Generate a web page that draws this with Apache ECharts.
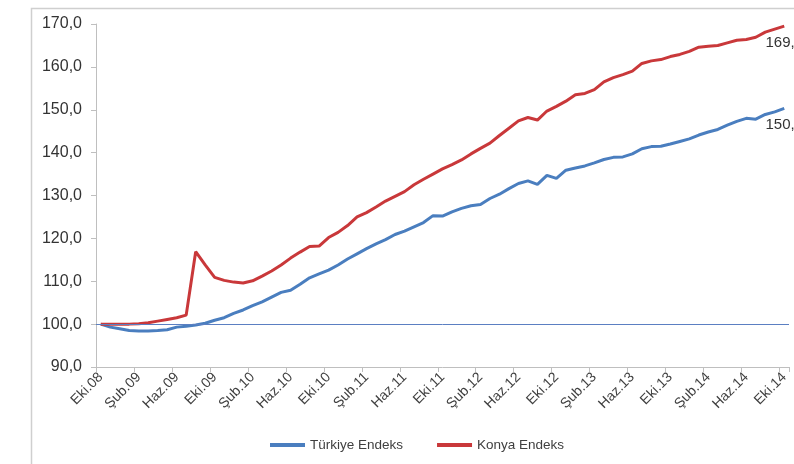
<!DOCTYPE html>
<html>
<head>
<meta charset="utf-8">
<script src="https://cdn.jsdelivr.net/npm/echarts@6/dist/echarts.min.js"></script>
<style>
  html, body { margin: 0; padding: 0; background: #ffffff; }
  #chart { width: 794px; height: 464px; }
</style>
</head>
<body>
<div id="chart"></div>
<script>
// Monthly index values, Eki.08 = 100 (October 2008 – October 2014)
const months = ['Oca', 'Şub', 'Mar', 'Nis', 'May', 'Haz', 'Tem', 'Ağu', 'Eyl', 'Eki', 'Kas', 'Ara'];
const categories = [];
for (let k = 0; k < 73; k++) {
  const m = (9 + k) % 12;
  const y = 8 + Math.floor((9 + k) / 12);
  categories.push(months[m] + '.' + String(y).padStart(2, '0'));
}

const seriesNames = ['Türkiye Endeks', 'Konya Endeks'];

const turkiyeEndeks = [
  100.0, 99.3, 98.9, 98.5, 98.4, 98.4, 98.5, 98.7, 99.3, 99.5,
  99.8, 100.2, 100.9, 101.5, 102.5, 103.3, 104.3, 105.2, 106.3, 107.4,
  107.9, 109.3, 110.8, 111.7, 112.6, 113.8, 115.2, 116.4, 117.6, 118.7,
  119.7, 120.9, 121.7, 122.7, 123.7, 125.3, 125.2, 126.2, 127.0, 127.6,
  127.9, 129.3, 130.3, 131.6, 132.8, 133.4, 132.6, 134.7, 134.0, 135.9,
  136.4, 136.9, 137.6, 138.4, 138.9, 139.0, 139.7, 140.9, 141.4, 141.5,
  142.0, 142.6, 143.2, 144.1, 144.8, 145.4, 146.4, 147.3, 148.0, 147.8,
  148.9, 149.5, 150.3
];

const konyaEndeks = [
  100.0, 100.0, 100.0, 100.0, 100.1, 100.3, 100.7, 101.1, 101.5, 102.1,
  116.9, 113.8, 110.9, 110.2, 109.8, 109.6, 110.1, 111.2, 112.4, 113.8,
  115.4, 116.8, 118.1, 118.2, 120.2, 121.4, 123.0, 125.0, 126.0, 127.3,
  128.7, 129.8, 130.9, 132.5, 133.8, 135.0, 136.2, 137.2, 138.3, 139.7,
  141.0, 142.2, 144.0, 145.7, 147.4, 148.2, 147.6, 149.7, 150.8, 152.0,
  153.5, 153.8, 154.7, 156.5, 157.5, 158.2, 159.0, 160.8, 161.4, 161.7,
  162.4, 162.9, 163.6, 164.6, 164.8, 165.0, 165.6, 166.2, 166.4, 166.9,
  168.1, 168.8, 169.5
];

const baseLevel = 100;
const yTicks = { min: 90, max: 170, step: 10 };

const FONT = '"Liberation Sans Narrow", "Liberation Sans", Arial, sans-serif';
const fmt = v => v.toFixed(1).replace('.', ',');

// Label only the final point of each series
function endLabel(values) {
  return values.map((v, i) => i === values.length - 1
    ? { value: v, label: { show: true } }
    : v);
}

const chart = echarts.init(document.getElementById('chart'), null, { renderer: 'canvas' });

chart.setOption({
  animation: false,
  backgroundColor: '#ffffff',
  textStyle: { fontFamily: FONT },
  graphic: [{
    type: 'rect',
    shape: { x: 31.5, y: 8.5, width: 800, height: 500 },
    style: { fill: 'none', stroke: '#cfcfcf', lineWidth: 1.5 },
    silent: true, z: -1
  }],
  grid: { left: 96, right: 5, top: 24, bottom: 97, containLabel: false },
  legend: {
    left: 265, top: 433,
    itemWidth: 35, itemHeight: 4, itemGap: 34,
    textStyle: { fontFamily: FONT, fontSize: 13.5, color: '#404040' },
    data: [
      { name: seriesNames[0], icon: 'rect' },
      { name: seriesNames[1], icon: 'rect' }
    ]
  },
  xAxis: {
    type: 'category',
    data: categories,
    boundaryGap: true,
    axisLine: { lineStyle: { color: '#bfbfbf', width: 1 } },
    axisTick: { show: true, interval: 3, length: 5, lineStyle: { color: '#bfbfbf' } },
    axisLabel: {
      interval: 3, rotate: 45, margin: 8,
      fontFamily: FONT, fontSize: 14, color: '#404040'
    },
    splitLine: { show: false }
  },
  yAxis: {
    type: 'value',
    min: yTicks.min, max: yTicks.max, interval: yTicks.step,
    axisLine: { show: true, lineStyle: { color: '#bfbfbf', width: 1 } },
    axisTick: { show: true, length: 5, lineStyle: { color: '#bfbfbf' } },
    axisLabel: {
      formatter: v => fmt(v), margin: 14,
      fontFamily: FONT, fontSize: 16, color: '#333333'
    },
    splitLine: { show: false }
  },
  series: [
    {
      name: seriesNames[0],
      type: 'line',
      data: endLabel(turkiyeEndeks),
      symbol: 'circle', symbolSize: 0.01, showSymbol: true,
      lineStyle: { color: '#4a7ebf', width: 3 },
      itemStyle: { color: '#4a7ebf' },
      label: {
        show: false,
        position: 'bottom', distance: 9,
        formatter: p => fmt(p.value),
        fontFamily: FONT, fontSize: 15, color: '#333333'
      },
      markLine: {
        silent: true, symbol: 'none',
        label: { show: false },
        lineStyle: { color: '#5b7fc2', width: 1, type: 'solid' },
        data: [{ yAxis: baseLevel }]
      },
      z: 2
    },
    {
      name: seriesNames[1],
      type: 'line',
      data: endLabel(konyaEndeks),
      symbol: 'circle', symbolSize: 0.01, showSymbol: true,
      lineStyle: { color: '#c9383a', width: 3 },
      itemStyle: { color: '#c9383a' },
      label: {
        show: false,
        position: 'bottom', distance: 9,
        formatter: p => fmt(p.value),
        fontFamily: FONT, fontSize: 15, color: '#333333'
      },
      z: 3
    }
  ]
});
</script>
</body>
</html>
